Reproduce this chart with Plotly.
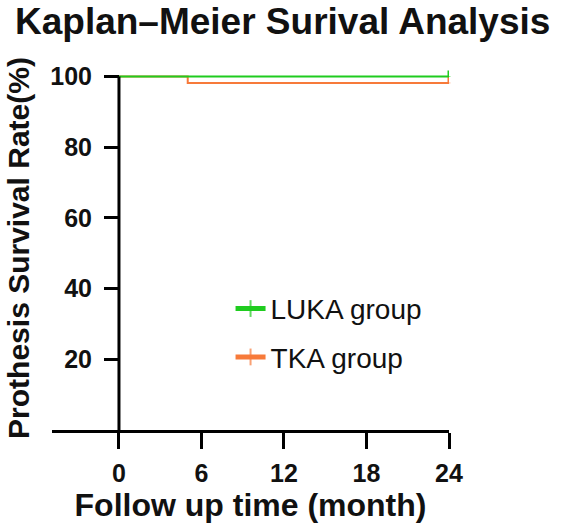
import plotly.graph_objects as go

# ---- data ----
months_luka = [0, 24]
surv_luka = [100, 100]
months_tka = [0, 5, 24]
surv_tka = [100, 98.2, 98.2]
censor_up_luka = [0, 1.7]
censor_up_tka = [0, 0, 1.7]
censor_flag_luka = [0, 1]
censor_flag_tka = [0, 0, 1]
x_ticks = [0, 6, 12, 18, 24]
y_ticks = [20, 40, 60, 80, 100]

GREEN = "#1fcc1f"
ORANGE = "#f77a3a"
FONT = "Liberation Sans, Arial, sans-serif"

X_MIN, X_MAX = -4.87, 24
Y_MAX = 103

fig = go.Figure()

def km_trace(x, y, up, flag, name, color, rank):
    return go.Scatter(
        x=x, y=y, name=name, mode="lines+markers", line_shape="hv",
        line=dict(color=color, width=2),
        marker=dict(symbol="line-ns", size=[0.5 * f for f in flag], color=color,
                    line=dict(color=color, width=3)),
        error_y=dict(type="data", symmetric=False, array=up,
                     arrayminus=[0] * len(x), color=color, thickness=3, width=0),
        cliponaxis=False, legendrank=rank, legendgroup=name,
    )

# TKA drawn first so that the LUKA line sits on top at 100 %
fig.add_trace(km_trace(months_tka, surv_tka, censor_up_tka, censor_flag_tka, "TKA group", ORANGE, 2))
fig.add_trace(km_trace(months_luka, surv_luka, censor_up_luka, censor_flag_luka, "LUKA group", GREEN, 1))

pos0 = (0 - X_MIN) / (X_MAX - X_MIN)

# y-axis line at x = 0 running from 0 to the top tick
fig.add_shape(type="line", xref="x", yref="y", x0=0, x1=0, y0=0, y1=y_ticks[-1],
              line=dict(color="black", width=3), layer="above")

fig.update_layout(
    width=567, height=528,
    margin=dict(l=52, r=117.5, t=66.4, b=98),
    paper_bgcolor="white", plot_bgcolor="white",
    font=dict(family=FONT, color="#111"),
    title=dict(text="Kaplan–Meier Surival Analysis", xref="container", yref="container",
               x=15 / 567, xanchor="left", y=1 - 21 / 528, yanchor="middle",
               font=dict(size=37, family=FONT, weight="bold", color="#111")),
    xaxis=dict(range=[X_MIN, X_MAX], tickvals=x_ticks, ticks="outside", ticklen=16,
               tickwidth=3, tickcolor="black", showline=True, linewidth=3, linecolor="black",
               showgrid=False, zeroline=False, ticklabelstandoff=3,
               tickfont=dict(size=25, family=FONT, weight="bold", color="#111"),
               title=dict(text="Follow up time (month)", standoff=6,
                          font=dict(size=32, family=FONT, weight="bold", color="#111"))),
    yaxis=dict(range=[0, Y_MAX], tickvals=y_ticks, ticks="outside", ticklen=15,
               tickwidth=3, tickcolor="black", showline=False,
               showgrid=False, zeroline=False, anchor="free", position=pos0,
               ticklabelstandoff=7,
               tickfont=dict(size=25, family=FONT, weight="bold", color="#111"),
               title=dict(text="Prothesis Survival Rate(%)", standoff=10,
                          font=dict(size=30, family=FONT, weight="bold", color="#111"))),
    legend=dict(x=(231 - 52) / 398, xanchor="left", y=(430 - 284) / 363.6, yanchor="top",
                font=dict(size=28, family=FONT, color="#111"), bgcolor="rgba(0,0,0,0)",
                itemsizing="constant", traceorder="grouped", tracegroupgap=9),
    showlegend=True,
)

fig.write_html("out.html")
